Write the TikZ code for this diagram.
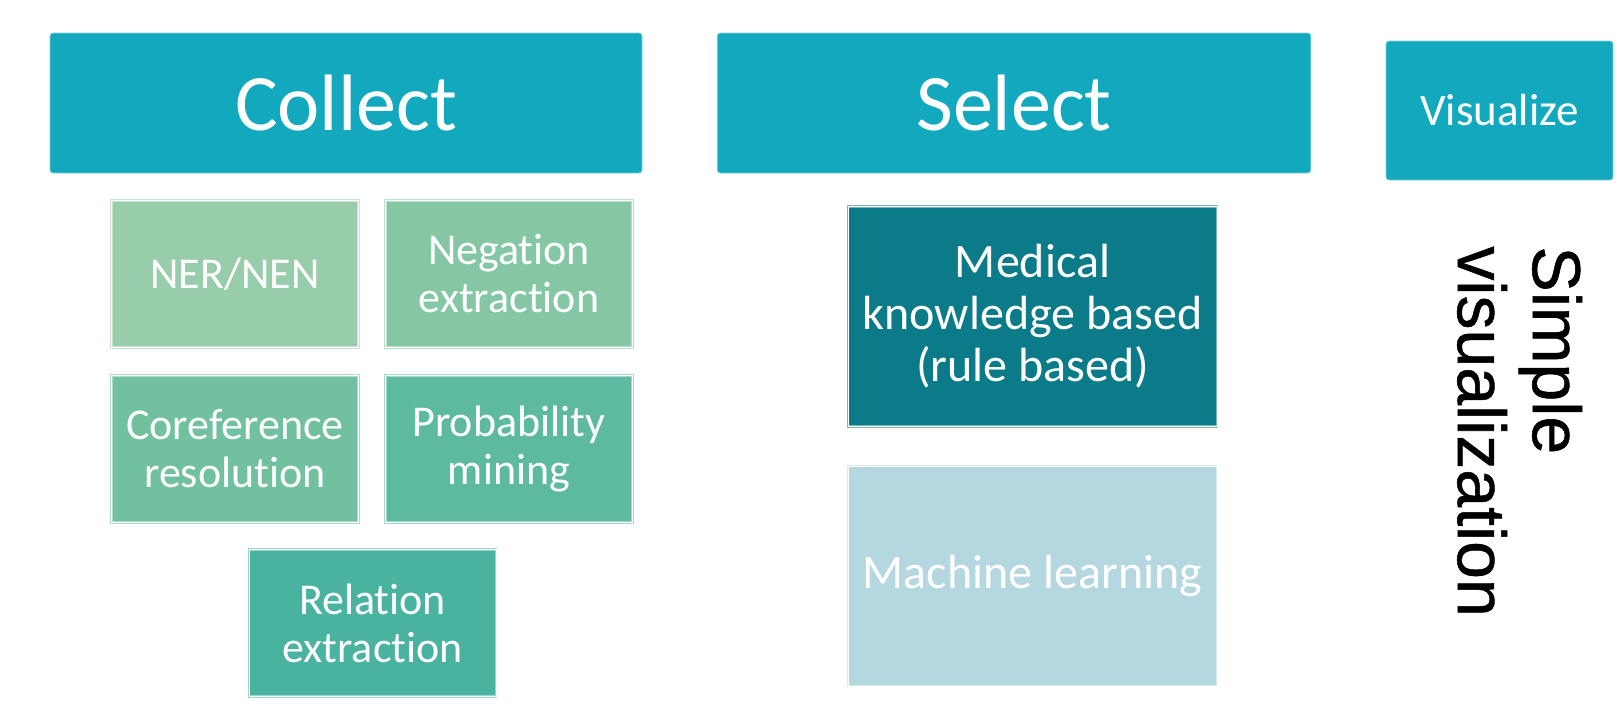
\documentclass[tikz,border=0pt]{standalone}
\usepackage{fontspec}
\setmainfont{Carlito}[Ligatures=NoCommon]
\newfontfamily\simplefont{Liberation Sans}[FakeBold=0.8]
\definecolor{stagecol}{RGB}{18,169,191}
\definecolor{nercol}{RGB}{151,205,170}
\definecolor{negcol}{RGB}{133,199,165}
\definecolor{corefcol}{RGB}{113,192,160}
\definecolor{probcol}{RGB}{93,186,161}
\definecolor{relcol}{RGB}{73,179,160}
\definecolor{medcol}{RGB}{11,122,137}
\definecolor{mlcol}{RGB}{181,215,223}
\begin{document}
\begin{tikzpicture}[x=0.5pt,y=-0.5pt,
        stage/.style={fill=stagecol, draw=stagecol!55!white, line width=0.4pt, rounded corners=1.5pt, text=white, inner sep=0pt, minimum height=70pt},
        task/.style={fill=#1, draw=#1!55!white, double=white, double distance=0.5pt, line width=0.4pt, text=white, align=center, inner sep=0pt, minimum width=123.5pt, minimum height=73.5pt, font=\fontsize{22}{24}\selectfont},
        method/.style={task=#1, minimum width=184.5pt, minimum height=110pt, font=\fontsize{24}{26}\selectfont}]
    \useasboundingbox (0,0) rectangle (1621,718);

    \node[stage, minimum width=296pt, font=\fontsize{40}{48}\selectfont] (collect) at (346,103) {Collect};
    \node[stage, minimum width=296.75pt, font=\fontsize{40}{48}\selectfont] (select) at (1014,103) {Select};
    \node[stage, minimum width=113.5pt, minimum height=69.5pt, font=\fontsize{22.5}{27}\selectfont] (visualize) at (1499.5,110.5) {Visualize};

    \node[task=nercol] (ner) at (235,274) {NER/NEN};
    \node[task=negcol] (negation) at (509,274) {Negation\\extraction};
    \node[task=corefcol] (coref) at (235,449) {Coreference\\resolution};
    \node[task=probcol] (prob) at (509,449) {Probability\\mining};
    \node[task=relcol] (relation) at (372.5,623) {Relation\\extraction};

    \node[method=medcol] (medical) at (1032.5,316.5) {Medical\\knowledge based\\(rule based)};
    \node[method=mlcol] (learning) at (1032.5,576) {Machine learning};

    \node[rotate=-90, anchor=north west, inner sep=0pt, align=left, font=\simplefont\fontsize{34}{37.5}\selectfont] (simple) at (1582.5,246) {Simple\\visualization};
\end{tikzpicture}
\end{document}
